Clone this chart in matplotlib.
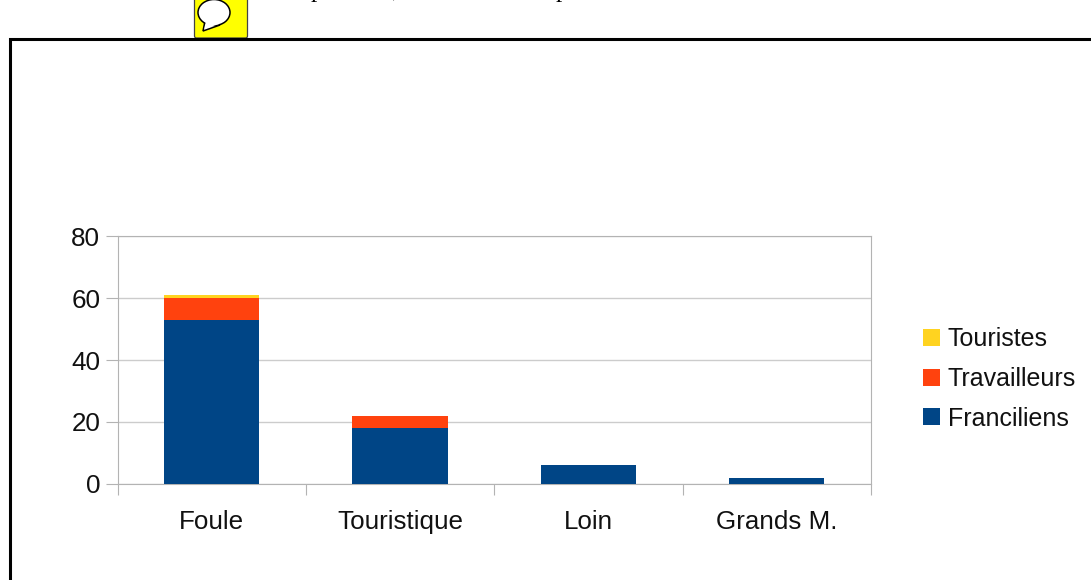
#python 3
# Stacked bars: Foule / Touristique / Loin / Grands M.

import numpy as np
import matplotlib
matplotlib.use('Agg')
import matplotlib.pyplot as plt
from matplotlib.patches import Ellipse, Polygon, FancyBboxPatch

categories = ['Foule', 'Touristique', 'Loin', 'Grands M.']
franciliens = [53, 18, 6, 2]
travailleurs = [7, 4, 0, 0]
touristes = [1, 0, 0, 0]
yticks = [0, 20, 40, 60, 80]

W, H = 1091, 580
GRAY = '#b3b3b3'
FS = 18.7
plt.rcParams['font.family'] = ['Liberation Sans', 'DejaVu Sans']

fig = plt.figure(figsize=(W/100, H/100), dpi=100)

# page furniture, in pixel coordinates on a full-figure overlay
bg = fig.add_axes([0, 0, 1, 1])
bg.set_xlim(0, W)
bg.set_ylim(H, 0)
bg.axis('off')
bg.plot([9.5, 9.5, W], [H, 39.3, 39.3], color='black', lw=2.2, solid_joinstyle='miter')
bg.add_patch(FancyBboxPatch((194.5, -6), 53, 44, boxstyle='round,pad=0,rounding_size=2',
                            fc='#ffff00', ec='#444444', lw=0.9))
bg.add_patch(Polygon([[205, 21], [203, 31], [220, 25]], closed=True, fc='white', ec='black', lw=1.1))
bg.add_patch(Ellipse((214, 12.5), 32, 26, fc='white', ec='black', lw=1.1))
bg.add_patch(Polygon([[206, 20], [204.5, 29], [219, 24]], closed=True, fc='white', ec='none'))
# descenders of the cut-off line of text above the frame
for x, ch in [(317, 'p'), (395, ','), (562, 'p')]:
    bg.text(x, -3.5, ch, family='Liberation Serif', fontsize=18, ha='center', va='baseline', color='black')

# chart
ax = fig.add_axes([117.5/W, 1-483.7/H, (871-117.5)/W, (483.7-236.5)/H])
x = np.arange(len(categories))
franciliens = np.array(franciliens)
travailleurs = np.array(travailleurs)
touristes = np.array(touristes)
ax.bar(x, franciliens, width=0.505, color='#004586', label='Franciliens', zorder=3)
ax.bar(x, travailleurs, width=0.505, bottom=franciliens, color='#ff420e', label='Travailleurs', zorder=3)
ax.bar(x, touristes, width=0.505, bottom=franciliens+travailleurs, color='#ffd320', label='Touristes', zorder=3)

ax.set_xlim(-0.5, len(categories)-0.5)
ax.set_ylim(0, 80)
ax.set_yticks(yticks)
ax.grid(axis='y', color='#cccccc', lw=1, zorder=0)
ax.set_xticks(np.arange(len(categories)+1)-0.5)
ax.set_xticklabels([])
ax.set_xticks(x, categories, minor=True)
ax.tick_params(axis='x', which='major', length=8, width=0.8, color=GRAY)
ax.tick_params(axis='x', which='minor', length=0, labelsize=FS, pad=19, labelcolor='#111111')
ax.tick_params(axis='y', length=8.5, width=0.8, color=GRAY, labelsize=FS, pad=4, labelcolor='#111111')
for s in ax.spines.values():
    s.set_color(GRAY)
    s.set_linewidth(0.8)

handles, labels = ax.get_legend_handles_labels()
ax.legend(handles[::-1], labels[::-1], loc='center left', bbox_to_anchor=(923/W, 1-379/H),
          bbox_transform=fig.transFigure, frameon=False, fontsize=18, handlelength=0.68,
          handleheight=0.68, handletextpad=0.3, labelspacing=0.62, borderpad=0, borderaxespad=0,
          labelcolor='#111111')

fig.savefig('out.png', dpi=100)
